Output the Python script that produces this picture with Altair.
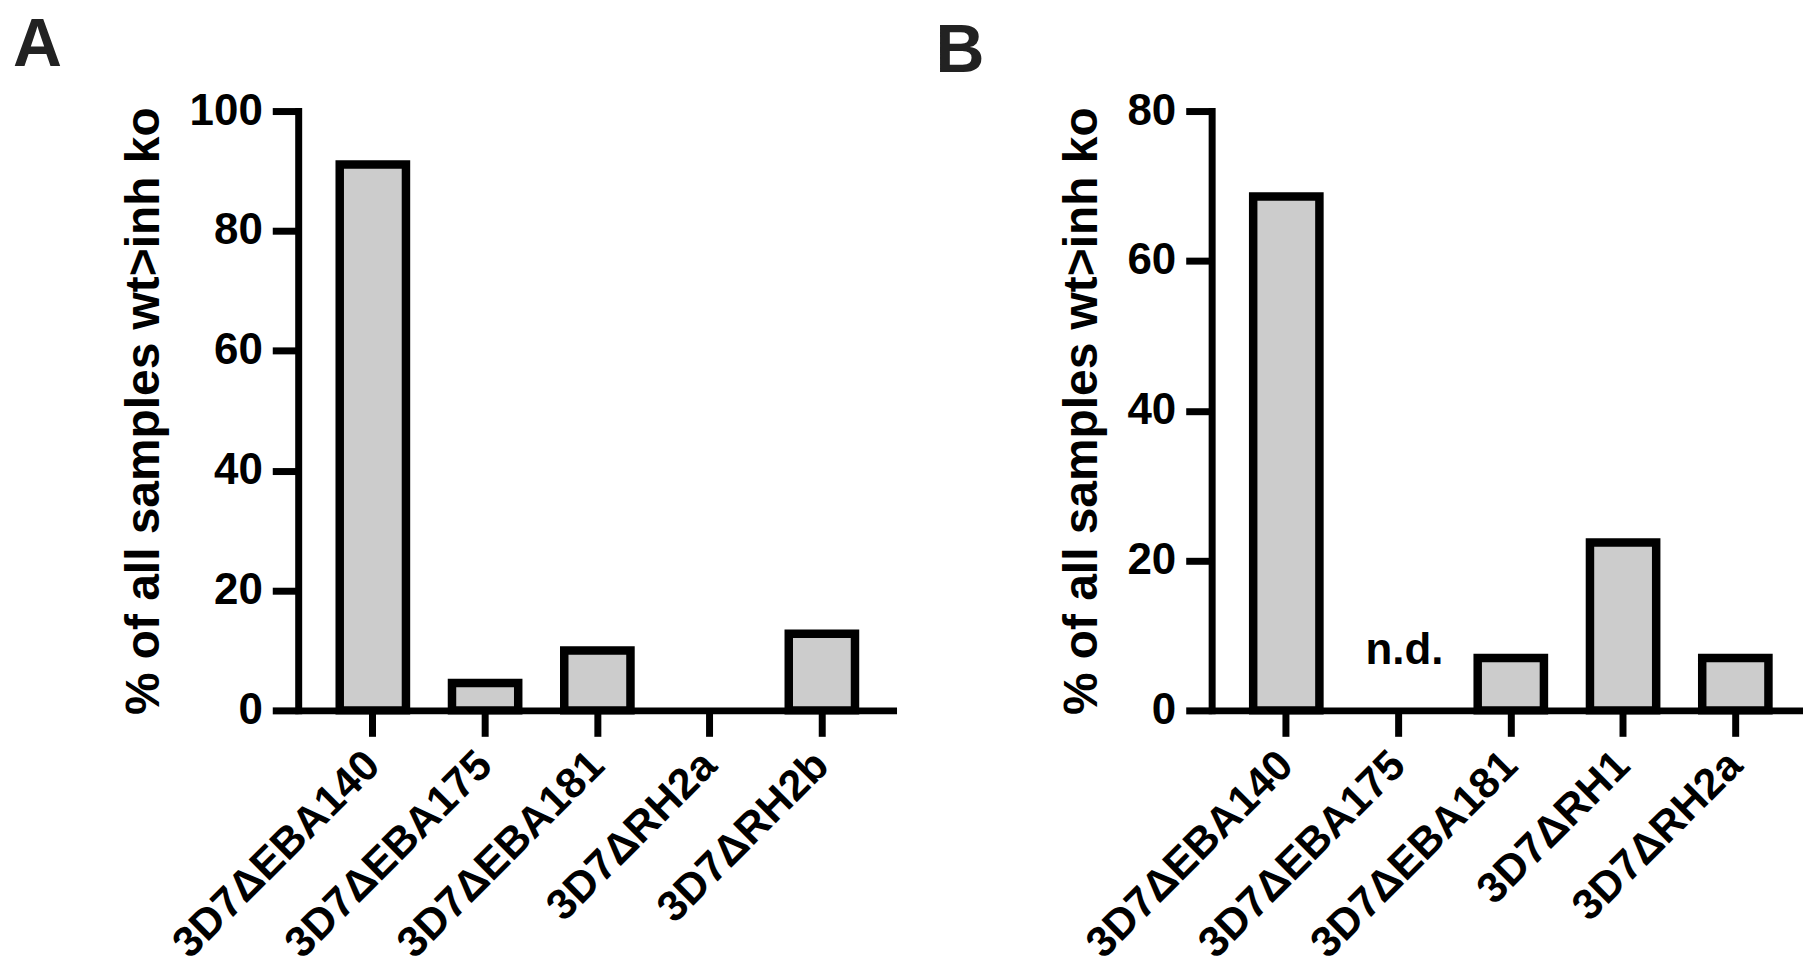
import altair as alt
import pandas as pd

FONT = "Liberation Sans"

cats_a = ["3D7ΔEBA140", "3D7ΔEBA175", "3D7ΔEBA181", "3D7ΔRH2a", "3D7ΔRH2b"]
vals_a = [91.1, 4.55, 10.0, 0.0, 12.8]
notes_a = ["", "", "", "", ""]

cats_b = ["3D7ΔEBA140", "3D7ΔEBA175", "3D7ΔEBA181", "3D7ΔRH1", "3D7ΔRH2a"]
vals_b = [68.6, 0.0, 7.0, 22.4, 7.0]
notes_b = ["", "n.d.", "", "", ""]

ticks_a = [0, 20, 40, 60, 80, 100]
ticks_b = [0, 20, 40, 60, 80]
y_title = "% of all samples wt>inh ko"


def panel(cats, vals, notes, ticks, letter, letter_dx):
    df = pd.DataFrame({"cat": cats, "val": vals, "note": notes})
    x = alt.X(
        "cat:N", sort=cats, title=None,
        scale=alt.Scale(domain=cats, paddingInner=0.41, paddingOuter=0.37),
        axis=alt.Axis(
            labelAngle=-45, labelAlign="right", labelBaseline="middle",
            labelPadding=22, tickSize=26, tickWidth=7, domainWidth=7,
            domainColor="black", tickColor="black", labelColor="black",
            labelFont=FONT, labelFontSize=43, labelFontWeight="bold",
            labelLimit=0, grid=False,
        ),
    )
    y = alt.Y(
        "val:Q", title=y_title,
        scale=alt.Scale(domain=[0, max(ticks)], nice=False, zero=True),
        axis=alt.Axis(
            values=ticks, tickSize=26, tickWidth=7, domainWidth=7,
            domainCap="square",
            domainColor="black", tickColor="black", labelColor="black",
            labelFont=FONT, labelFontSize=44, labelFontWeight="bold",
            labelPadding=10, titlePadding=21,
            titleFont=FONT, titleFontSize=48, titleFontWeight="bold",
            titleColor="black", grid=False,
        ),
    )
    bars = alt.Chart(df).transform_filter("datum.val > 0").mark_bar(
        fill="#cccccc", stroke="black", strokeWidth=8.5
    ).encode(x=x, y=y)
    text = alt.Chart(df).mark_text(
        font=FONT, fontSize=44, fontWeight="bold", color="black",
        baseline="alphabetic", dy=-47, dx=6,
    ).encode(x=alt.X("cat:N", sort=cats), y="val:Q", text="note:N")
    return alt.layer(bars, text).properties(
        width=600, height=601,
        title=alt.TitleParams(
            letter, anchor="start", frame="group", dx=letter_dx,
            font=FONT, fontSize=68, fontWeight="bold", color="#222222",
            offset=3,
        ),
    )


pa = panel(cats_a, vals_a, notes_a, ticks_a, "A", -286)
pb = panel(cats_b, vals_b, notes_b, ticks_b, "B", -277)

chart = alt.hconcat(pa, pb, spacing=39).properties(
    padding={"left": 5, "top": 2, "right": -7, "bottom": 0},
    background="white",
).configure_view(stroke=None, strokeWidth=0)

chart.save("out.html", embed_options={"renderer": "svg", "actions": False})
